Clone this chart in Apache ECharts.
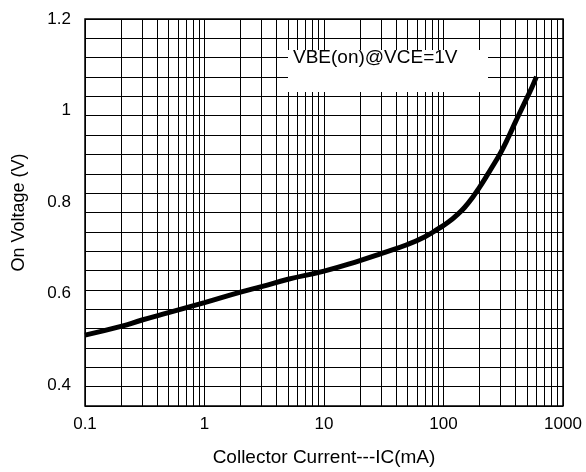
<!DOCTYPE html>
<html>
<head>
<meta charset="utf-8">
<title>VBE(on) vs IC</title>
<script src="https://cdn.jsdelivr.net/npm/echarts@6/dist/echarts.min.js"></script>
<style>
  html, body { margin: 0; padding: 0; background: #fff; }
  #chart { width: 586px; height: 472px; }
</style>
</head>
<body>
<div id="chart"></div>
<script>
// collector current (mA)
const currentMA = [0.1, 0.2, 0.3, 0.5, 1, 2, 3, 5, 10, 20, 30, 50, 70, 90, 110, 130, 150, 175, 200, 230, 270, 300, 350, 400, 450, 500, 550, 600]
// on voltage (V)
const onVoltage = [0.509, 0.528, 0.542, 0.558, 0.580, 0.603, 0.615, 0.631, 0.649, 0.672, 0.687, 0.707, 0.724, 0.741, 0.756, 0.772, 0.788, 0.810, 0.832, 0.857, 0.887, 0.907, 0.942, 0.975, 1.003, 1.028, 1.051, 1.074]

const xLabels = [0.1, 1, 10, 100, 1000]
const xGrid = [
  0.1, 0.2, 0.3, 0.4, 0.5, 0.6, 0.7, 0.8, 0.9,
  1, 2, 3, 4, 5, 6, 7, 8, 9,
  10, 20, 30, 40, 50, 60, 70, 80, 90,
  100, 200, 300, 400, 500, 600, 700, 800, 900,
  1000,
]
const yLabels = [0.4, 0.6, 0.8, 1, 1.2]
const yMin = 0.354
const yMax = 1.2

const chart = echarts.init(document.getElementById('chart'), null, { renderer: 'canvas' })

const font = 'Liberation Sans, Arial, sans-serif'

const option = {
  animation: false,
  grid: {
    left: 85,
    right: 23,
    top: 19,
    bottom: 64,
    show: true,
    borderColor: '#000',
    borderWidth: 1.5,
  },
  xAxis: {
    type: 'log',
    logBase: 10,
    min: 0.1,
    max: 1000,
    name: 'Collector Current---IC(mA)',
    nameLocation: 'middle',
    nameGap: 42,
    nameTextStyle: { color: '#000', fontSize: 19, fontFamily: font },
    axisLine: { show: false },
    axisTick: { show: false, customValues: xGrid },
    axisLabel: {
      customValues: xLabels,
      color: '#000',
      fontSize: 17,
      fontFamily: font,
      margin: 10,
      formatter: (v) => String(+v.toPrecision(6)),
    },
    splitLine: { show: true, lineStyle: { color: '#000', width: 1 } },
  },
  yAxis: {
    type: 'value',
    min: yMin,
    max: yMax,
    interval: (yMax - yMin) / 20,
    name: 'On Voltage (V)',
    nameLocation: 'middle',
    nameGap: 57,
    nameTextStyle: { color: '#000', fontSize: 18, fontFamily: font },
    axisLine: { show: false },
    axisTick: { show: false },
    axisLabel: {
      customValues: yLabels,
      color: '#000',
      fontSize: 17,
      fontFamily: font,
      margin: 14,
    },
    splitLine: { show: true, lineStyle: { color: '#000', width: 1 } },
  },
  graphic: [
    {
      type: 'rect',
      z: 10,
      shape: { x: 288, y: 50, width: 200, height: 42 },
      style: { fill: '#fff' },
    },
    {
      type: 'text',
      z: 11,
      x: 293,
      y: 58,
      style: {
        text: 'VBE(on)@VCE=1V',
        fill: '#000',
        font: '19px ' + font,
        verticalAlign: 'middle',
      },
    },
  ],
  series: [
    {
      type: 'line',
      data: currentMA.map((c, i) => [c, onVoltage[i]]),
      smooth: true,
      symbol: 'none',
      lineStyle: { color: '#000', width: 5 },
    },
  ],
}

chart.setOption(option)
</script>
</body>
</html>
